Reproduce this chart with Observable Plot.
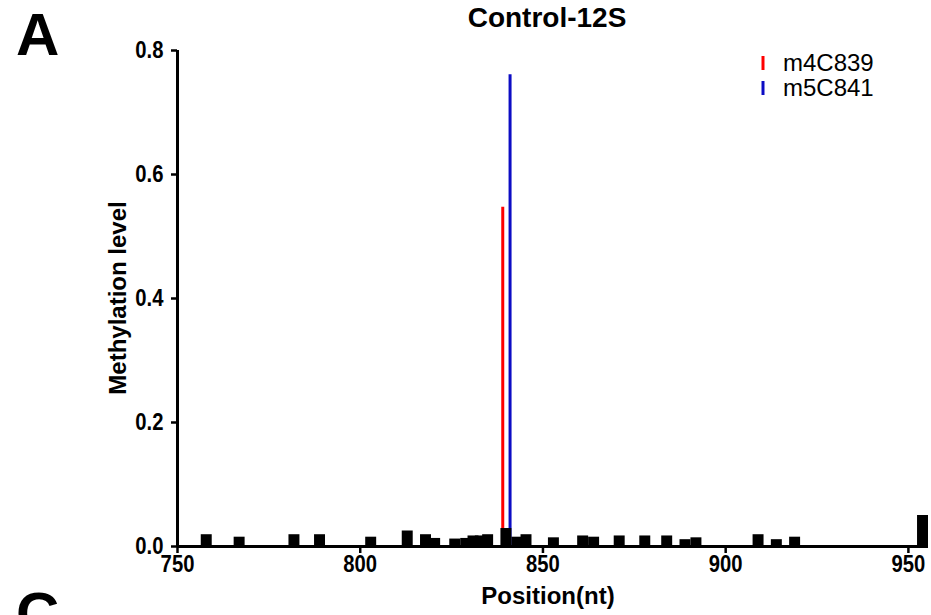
<!DOCTYPE html>
<html>
<head>
<meta charset="utf-8">
<script src="https://cdn.jsdelivr.net/npm/d3@7"></script>
<script src="https://cdn.jsdelivr.net/npm/@observablehq/plot@0.6"></script>
<style>
  html, body { margin: 0; padding: 0; background: #fff; }
  #chart { width: 931px; height: 615px; overflow: hidden; }
</style>
</head>
<body>
<div id="chart"></div>
<script>
// Background methylation levels (black bars)
const positions = [758, 767, 782, 789, 803, 813, 818, 820.5, 826, 829, 831, 833, 835, 840, 843, 845.5, 853, 861, 864, 871, 878, 884, 889, 892, 909, 914, 919, 954];
const levels    = [0.019, 0.015, 0.019, 0.019, 0.015, 0.025, 0.019, 0.013, 0.012, 0.013, 0.017, 0.017, 0.019, 0.029, 0.015, 0.019, 0.014, 0.017, 0.015, 0.017, 0.017, 0.017, 0.011, 0.014, 0.019, 0.011, 0.015, 0.050];

// Highlighted sites
const siteNames     = ["m4C839", "m5C841"];
const sitePositions = [839, 841];
const siteLevels    = [0.547, 0.761];
const siteColors    = ["#ff0000", "#0c0cc4"];

const xTicks = [750, 800, 850, 900, 950];
const yTicks = [0.0, 0.2, 0.4, 0.6, 0.8];

const bars = positions.map((p, i) => ({pos: p, value: levels[i]}));
const sites = siteNames.map((n, i) => ({name: n, pos: sitePositions[i], value: siteLevels[i], color: siteColors[i]}));

const W = 931, H = 615;
const FONT = "'Liberation Sans', Arial, Helvetica, sans-serif";

const plot = Plot.plot({
  width: W,
  height: H,
  marginLeft: 177,
  marginRight: 3,
  marginTop: 50,
  marginBottom: 69,
  style: {fontFamily: FONT, fontSize: "22px", fontWeight: "bold", color: "#000", background: "#fff"},
  x: {domain: [750, 955.5]},
  y: {domain: [0, 0.8]},
  marks: [
    Plot.ruleX(sites, {x: "pos", y1: 0, y2: "value", stroke: "color", strokeWidth: 3}),
    Plot.rect(bars, {x1: d => d.pos - 1.5, x2: d => d.pos + 1.5, y1: 0, y2: "value", fill: "#000"}),
    Plot.axisX({ticks: xTicks, tickFormat: d3.format("d"), tickSize: 7, tickPadding: 2, strokeWidth: 2.5, label: null}),
    Plot.axisY({ticks: yTicks, tickFormat: d3.format(".1f"), tickSize: 6, tickPadding: 8, strokeWidth: 2.5, label: null}),
    Plot.ruleY([0], {stroke: "#000", strokeWidth: 3}),
    Plot.ruleX([750], {y1: 0, y2: 0.8, stroke: "#000", strokeWidth: 3})
  ]
});

const svg = d3.select(plot);
svg.style("overflow", "hidden");

// Tick labels: larger, slightly condensed like the reference
svg.selectAll("g[aria-label*='tick label'] text")
  .style("font-size", "23px")
  .style("font-weight", "bold");

function addText(x, y, str, opts = {}) {
  const t = svg.append("text")
    .attr("x", x).attr("y", y)
    .attr("font-family", FONT)
    .attr("font-size", opts.size || 17)
    .attr("font-weight", opts.weight || "bold")
    .attr("text-anchor", opts.anchor || "start")
    .attr("fill", "#000")
    .text(str);
  if (opts.transform) t.attr("transform", opts.transform);
  return t;
}

// Panel letters
addText(16, 55, "A", {size: 60});
addText(16, 634, "C", {size: 60});
// Title
addText(547, 27, "Control-12S", {size: 28, anchor: "middle"});
// Axis titles
addText(548, 604, "Position(nt)", {size: 24, anchor: "middle"});
addText(0, 0, "Methylation level", {size: 24, anchor: "middle", transform: "translate(126,298) rotate(-90)"});

// Legend
sites.forEach((s, i) => {
  const cy = 63 + i * 25;
  svg.append("line")
    .attr("x1", 763).attr("x2", 763)
    .attr("y1", cy - 7).attr("y2", cy + 7)
    .attr("stroke", s.color).attr("stroke-width", 3);
  addText(783, cy + 8, s.name, {size: 24, weight: "normal"});
});

document.getElementById("chart").appendChild(plot);

// Condense tick labels horizontally (reference glyphs are narrower than tall)
svg.selectAll("g[aria-label*='tick label'] text").each(function() {
  const w = this.getComputedTextLength();
  if (w > 0) {
    d3.select(this).attr("textLength", w * 0.88).attr("lengthAdjust", "spacingAndGlyphs");
  }
});
</script>
</body>
</html>
